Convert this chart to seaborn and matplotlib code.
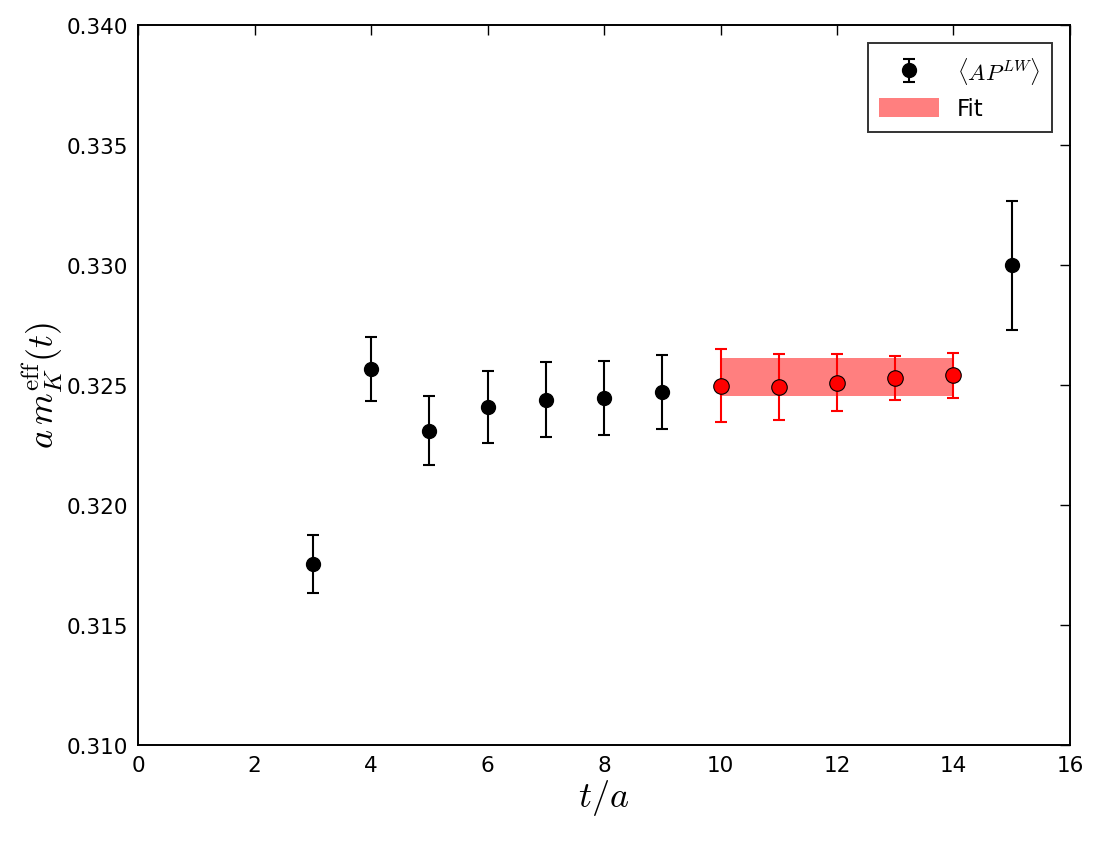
import numpy as np
import pandas as pd
import matplotlib
matplotlib.use("Agg")
import matplotlib.pyplot as plt
import seaborn as sns
from matplotlib.ticker import FormatStrFormatter
from matplotlib.patches import Patch

# effective mass data
t_vals = [3, 4, 5, 6, 7, 8, 9, 10, 11, 12, 13, 14, 15]
m_eff = [0.31755, 0.32567, 0.32310, 0.32407, 0.32439, 0.32446, 0.32471,
         0.32497, 0.32493, 0.32510, 0.32530, 0.32540, 0.32999]
m_err = [0.00121, 0.00134, 0.00143, 0.00150, 0.00155, 0.00155, 0.00156,
         0.00151, 0.00138, 0.00120, 0.00091, 0.00095, 0.00268]

# fit window and result
fit_range = [10, 14]
fit_value = 0.32534
fit_error = 0.00079

df = pd.DataFrame({"t": t_vals, "m": m_eff, "err": m_err})
df["in_fit"] = (df["t"] >= fit_range[0]) & (df["t"] <= fit_range[1])

sns.set_style("white")
plt.rcParams["font.family"] = ["DejaVu Sans"]
plt.rcParams["mathtext.fontset"] = "cm"
plt.rcParams["xtick.direction"] = "in"
plt.rcParams["ytick.direction"] = "in"
plt.rcParams["xtick.top"] = True
plt.rcParams["ytick.right"] = True
plt.rcParams["text.color"] = "black"
plt.rcParams["axes.labelcolor"] = "black"
plt.rcParams["xtick.color"] = "black"
plt.rcParams["ytick.color"] = "black"

fig = plt.figure(figsize=(11, 8.45), dpi=100)
ax = fig.add_axes([0.1255, 0.1172, 0.8472, 0.852])

out = df[~df["in_fit"]]
inn = df[df["in_fit"]]

# fit band
ax.fill_between(fit_range, fit_value - fit_error, fit_value + fit_error,
                color="red", alpha=0.5, linewidth=0, zorder=1)

# error bars
eb = ax.errorbar(out["t"], out["m"], yerr=out["err"], fmt="o", color="black",
                 ms=10, capsize=4.5, elinewidth=1.5, capthick=1.5, zorder=3)
ax.errorbar(inn["t"], inn["m"], yerr=inn["err"], fmt="none", ecolor="red",
            capsize=4.5, elinewidth=1.5, capthick=1.5, zorder=3)
sns.scatterplot(data=inn, x="t", y="m", color="red", edgecolor="black",
                s=125, linewidth=0.8, zorder=4, ax=ax, legend=False)

ax.set_xlim(0, 16)
ax.set_ylim(0.310, 0.340)
ax.set_xticks(np.arange(0, 17, 2))
ax.set_yticks(np.arange(0.310, 0.3401, 0.005))
ax.yaxis.set_major_formatter(FormatStrFormatter("%.3f"))
ax.tick_params(labelsize=15.5, length=7, width=1, pad=7)
for sp in ax.spines.values():
    sp.set_linewidth(1.4)
    sp.set_color("black")

ax.set_xlabel(r"$t/a$", fontsize=26, labelpad=2)
ax.set_ylabel(r"$a\,m_K^{\rm eff}(t)$", fontsize=26, labelpad=1)

fit_patch = Patch(facecolor="red", alpha=0.5, edgecolor="none")
leg = ax.legend([eb, fit_patch], [r"$\langle AP^{LW}\rangle$", "Fit"],
                loc="upper right", fontsize=16.5, frameon=True, fancybox=False,
                borderpad=0.5, handlelength=2.6, handleheight=0.9,
                numpoints=1, borderaxespad=0.8)
leg.get_frame().set_edgecolor("black")
leg.get_frame().set_linewidth(1.4)

fig.savefig("out.png", dpi=100)
